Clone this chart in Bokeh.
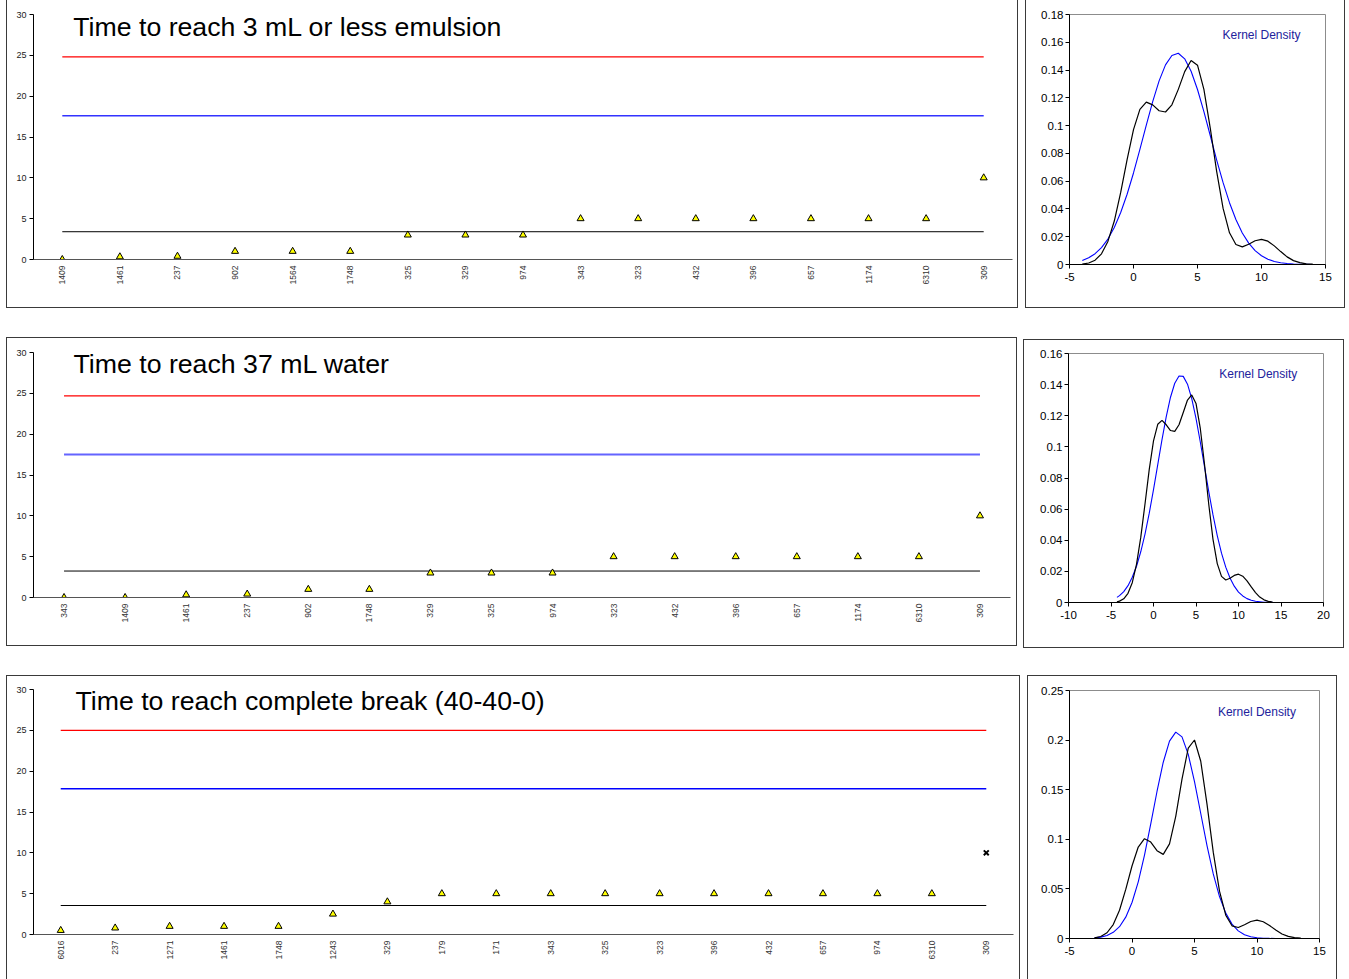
import math
from bokeh.plotting import figure
from bokeh.layouts import column, row
from bokeh.models import FactorRange, Range1d, Label, FixedTicker, CustomJSTickFormatter
from bokeh.embed import file_html
from bokeh.resources import INLINE

FONT = "Liberation Sans"

# ---------------- data: control charts ----------------
title1 = "Time to reach 3 mL or less emulsion"
cats1 = ["1409", "1461", "237", "902", "1564", "1748", "325", "329", "974",
         "343", "323", "432", "396", "657", "1174", "6310", "309"]
vals1 = [0, 0.33, 0.4, 1, 1, 1, 3, 3, 3, 5, 5, 5, 5, 5, 5, 5, 10]
upper1, warn1, mean1 = 24.8, 17.6, 3.4

title2 = "Time to reach 37 mL water"
cats2 = ["343", "1409", "1461", "237", "902", "1748", "329", "325", "974",
         "323", "432", "396", "657", "1174", "6310", "309"]
vals2 = [0, 0, 0.33, 0.42, 1, 1, 3, 3, 3, 5, 5, 5, 5, 5, 5, 10]
upper2, warn2, mean2 = 24.7, 17.5, 3.24

title3 = "Time to reach complete break (40-40-0)"
cats3 = ["6016", "237", "1271", "1461", "1748", "1243", "329", "179", "171",
         "343", "325", "323", "396", "432", "657", "974", "6310", "309"]
vals3 = [0.5, 0.8, 1, 1, 1, 2.5, 4, 5, 5, 5, 5, 5, 5, 5, 5, 5, 5, 10]
excluded3 = ["309"]
upper3, warn3, mean3 = 25.0, 17.85, 3.55

y_ticks_left = [0, 5, 10, 15, 20, 25, 30]

# ---------------- data: density curves ----------------
dx1 = [-4, -3.5, -3, -2.5, -2, -1.5, -1, -0.5, 0, 0.5, 1, 1.5, 2, 2.5, 3, 3.5, 4, 4.5,
       5, 5.5, 6, 6.5, 7, 7.5, 8, 8.5, 9, 9.5, 10, 10.5, 11, 11.5, 12, 12.5, 13, 13.5, 14]
kde1 = [0.0003, 0.0011, 0.0031, 0.0077, 0.0166, 0.0313, 0.0519, 0.0755, 0.0971, 0.1117,
        0.1169, 0.1149, 0.1107, 0.1098, 0.1150, 0.1261, 0.1389, 0.1469, 0.1435, 0.1261,
        0.0980, 0.0669, 0.0404, 0.0228, 0.0144, 0.0127, 0.0146, 0.0171, 0.0181, 0.0168,
        0.0134, 0.0093, 0.0055, 0.0028, 0.0013, 0.0005, 0.0002]
norm1 = [0.0029, 0.0048, 0.0078, 0.0122, 0.0183, 0.0267, 0.0374, 0.0506, 0.0659, 0.0829,
         0.1004, 0.1173, 0.1322, 0.1437, 0.1505, 0.1521, 0.1481, 0.1391, 0.1260, 0.1101,
         0.0927, 0.0752, 0.0589, 0.0445, 0.0324, 0.0227, 0.0154, 0.0100, 0.0063, 0.0038,
         0.0022, 0.0013, 0.0007, 0.0004, 0.0002, 0.0001, 0.0000]

dx2 = [-4.3, -4, -3.5, -3, -2.5, -2, -1.5, -1, -0.5, 0, 0.5, 1, 1.5, 2, 2.5, 3, 3.5, 4, 4.5,
       5, 5.5, 6, 6.5, 7, 7.5, 8, 8.5, 9, 9.5, 10, 10.5, 11, 11.5, 12, 12.5, 13, 13.5, 14]
kde2 = [0.0004, 0.0009, 0.0024, 0.0059, 0.0127, 0.0245, 0.0418, 0.0633, 0.0855, 0.1038,
        0.1145, 0.1170, 0.1142, 0.1105, 0.1100, 0.1142, 0.1221, 0.1301, 0.1334, 0.1279,
        0.1121, 0.0888, 0.0631, 0.0406, 0.0250, 0.0168, 0.0145, 0.0156, 0.0174, 0.0182,
        0.0169, 0.0139, 0.0100, 0.0064, 0.0035, 0.0017, 0.0007, 0.0003]
norm2 = [0.0033, 0.0044, 0.0070, 0.0108, 0.0162, 0.0233, 0.0326, 0.0440, 0.0574, 0.0725,
         0.0886, 0.1046, 0.1194, 0.1319, 0.1409, 0.1455, 0.1453, 0.1403, 0.1310, 0.1183,
         0.1033, 0.0873, 0.0713, 0.0563, 0.0430, 0.0317, 0.0227, 0.0157, 0.0105, 0.0067,
         0.0042, 0.0025, 0.0015, 0.0008, 0.0005, 0.0002, 0.0001, 0.0001]

dx3 = [-3, -2.5, -2, -1.5, -1, -0.5, 0, 0.5, 1, 1.5, 2, 2.5, 3, 3.5, 4, 4.5, 5, 5.5,
       6, 6.5, 7, 7.5, 8, 8.5, 9, 9.5, 10, 10.5, 11, 11.5, 12, 12.5, 13, 13.5]
kde3 = [0.0006, 0.0020, 0.0058, 0.0140, 0.0285, 0.0495, 0.0731, 0.0922, 0.1006, 0.0972,
        0.0885, 0.0848, 0.0954, 0.1232, 0.1607, 0.1919, 0.2001, 0.1787, 0.1355, 0.0870,
        0.0477, 0.0235, 0.0128, 0.0111, 0.0138, 0.0171, 0.0185, 0.0169, 0.0131, 0.0085,
        0.0046, 0.0021, 0.0008, 0.0003]
norm3 = [0.0006, 0.0014, 0.0030, 0.0062, 0.0119, 0.0215, 0.0363, 0.0571, 0.0841, 0.1155,
         0.1482, 0.1777, 0.1990, 0.2081, 0.2033, 0.1856, 0.1582, 0.1260, 0.0937, 0.0651,
         0.0423, 0.0256, 0.0145, 0.0077, 0.0038, 0.0018, 0.0008, 0.0003, 0.0001, 0.0000,
         0.0000, 0.0000, 0.0000, 0.0000]

dens_xticks1 = [-5, 0, 5, 10, 15]
dens_xticks2 = [-10, -5, 0, 5, 10, 15, 20]
dens_xticks3 = [-5, 0, 5, 10, 15]
dens_yticks1 = [0, 0.02, 0.04, 0.06, 0.08, 0.1, 0.12, 0.14, 0.16, 0.18]
dens_yticks2 = [0, 0.02, 0.04, 0.06, 0.08, 0.1, 0.12, 0.14, 0.16]
dens_yticks3 = [0, 0.05, 0.1, 0.15, 0.2, 0.25]
kd_label = "Kernel Density"

BOX_STYLE = {"border": "1px solid #3a3a3a", "background-color": "white"}
BOX_STYLE_OPEN_BOTTOM = {"border": "1px solid #3a3a3a", "border-bottom": "none",
                         "background-color": "white"}


def boxed(p, margin, open_bottom=False):
    return column(p, margin=margin,
                  styles=BOX_STYLE_OPEN_BOTTOM if open_bottom else BOX_STYLE)


def control_panel(cats, vals, upper, warn, mean, title, tx, ty, width, height,
                  borders, blue_color, blue_width, excluded=()):
    left, right, top, bottom = borders
    p = figure(x_range=FactorRange(*cats), y_range=Range1d(0, 30),
               width=width, height=height, output_backend="svg",
               toolbar_location=None, min_border_left=left, min_border_right=right,
               min_border_top=top, min_border_bottom=bottom,
               background_fill_color="white", border_fill_color="white")
    p.outline_line_color = None
    p.xgrid.visible = False
    p.ygrid.visible = False
    # reference lines
    p.line(x=[cats[0], cats[-1]], y=[upper, upper], line_color="#ff0000", line_width=1.3)
    p.line(x=[cats[0], cats[-1]], y=[warn, warn], line_color=blue_color, line_width=blue_width)
    p.line(x=[cats[0], cats[-1]], y=[mean, mean], line_color="black", line_width=1)
    # points
    tx_c = [c for c in cats if c not in excluded]
    tv = [v for c, v in zip(cats, vals) if c not in excluded]
    p.scatter(x=tx_c, y=tv, marker="triangle", size=7, fill_color="#ffff00",
              line_color="black", line_width=1)
    ex_c = [c for c in cats if c in excluded]
    ev = [v for c, v in zip(cats, vals) if c in excluded]
    if ex_c:
        p.scatter(x=ex_c, y=ev, marker="x", size=7, line_color="black", line_width=2)
    # axes
    ya = p.yaxis[0]
    ya.ticker = FixedTicker(ticks=y_ticks_left)
    ya.minor_tick_line_color = None
    ya.major_tick_out = 4
    ya.major_tick_in = 0
    ya.major_label_standoff = 3
    ya.major_label_text_font = FONT
    ya.major_label_text_font_size = "9px"
    ya.major_label_text_color = "#222222"
    ya.axis_line_color = "black"
    ya.major_tick_line_color = "black"
    xa = p.xaxis[0]
    xa.major_tick_line_color = None
    xa.major_tick_out = 2
    xa.major_label_standoff = 4
    xa.major_label_orientation = math.pi / 2
    xa.major_label_text_font = FONT
    xa.major_label_text_font_size = "8.5px"
    xa.major_label_text_color = "#333333"
    xa.axis_line_color = "#555555"
    p.add_layout(Label(x=tx, y=ty, text=title, text_font=FONT, text_font_size="26.7px",
                       text_color="black", text_baseline="alphabetic", text_align="left"))
    return p


def density_panel(xs, kde, norm, xr, yr, xticks, yticks, lx, ly, width, height, borders):
    left, right, top, bottom = borders
    p = figure(x_range=Range1d(*xr), y_range=Range1d(*yr), width=width, height=height,
               output_backend="svg", toolbar_location=None,
               min_border_left=left, min_border_right=right, min_border_top=top,
               min_border_bottom=bottom,
               background_fill_color="white", border_fill_color="white")
    p.xgrid.visible = False
    p.ygrid.visible = False
    p.outline_line_color = "#8c8c8c"
    p.outline_line_width = 1
    p.line(xs, norm, line_color="#0000ff", line_width=1.1)
    p.line(xs, kde, line_color="black", line_width=1.2)
    fmt = CustomJSTickFormatter(code="return String(parseFloat(tick.toFixed(4)));")
    for ax, ticks in ((p.xaxis[0], xticks), (p.yaxis[0], yticks)):
        ax.ticker = FixedTicker(ticks=ticks)
        ax.formatter = fmt
        ax.minor_tick_line_color = None
        ax.major_tick_out = 4
        ax.major_tick_in = 0
        ax.major_label_text_font = FONT
        ax.major_label_text_font_size = "11.5px"
        ax.major_label_text_color = "black"
        ax.axis_line_color = "black"
        ax.major_tick_line_color = "black"
    p.xaxis[0].major_label_standoff = 4
    p.yaxis[0].major_label_standoff = 2
    p.add_layout(Label(x=lx, y=ly, text=kd_label, text_font=FONT, text_font_size="12px",
                       text_color="#22229c", text_baseline="middle", text_align="left"))
    return p


pA = control_panel(cats1, vals1, upper1, warn1, mean1, title1, 0.69, 28.45,
                   1010, 307, (26, 5, 14, 48), "#3333ff", 1.5)
pB = density_panel(dx1, kde1, norm1, (-5, 15), (0, 0.18), dens_xticks1, dens_yticks1,
                   6.95, 0.165, 318, 307, (43, 19, 14, 43))

pC = control_panel(cats2, vals2, upper2, warn2, mean2, title2, 0.655, 28.6,
                   1009, 307, (26, 6, 14, 48), "#6464ff", 2)
pD = density_panel(dx2, kde2, norm2, (-10, 20), (0, 0.16), dens_xticks2, dens_yticks2,
                   7.73, 0.1467, 319, 307, (44, 20, 13, 45))

pE = control_panel(cats3, vals3, upper3, warn3, mean3, title3, 0.77, 28.55,
                   1012, 303, (26, 6, 13, 45), "#0000ff", 1.3, excluded=excluded3)
pF = density_panel(dx3, kde3, norm3, (-5, 15), (0, 0.25), dens_xticks3, dens_yticks3,
                   6.87, 0.2288, 308, 303, (41, 17, 14, 41))

layout = column(
    row(boxed(pA, (-1, 0, 0, 6)), boxed(pB, (-1, 0, 0, 7))),
    row(boxed(pC, (29, 0, 0, 6)), boxed(pD, (31, 0, 0, 6))),
    row(boxed(pE, (27, 0, 0, 6), open_bottom=True),
        boxed(pF, (27, 0, 0, 7), open_bottom=True)),
)

open("out.html", "w").write(file_html(layout, INLINE, "Charts"))
